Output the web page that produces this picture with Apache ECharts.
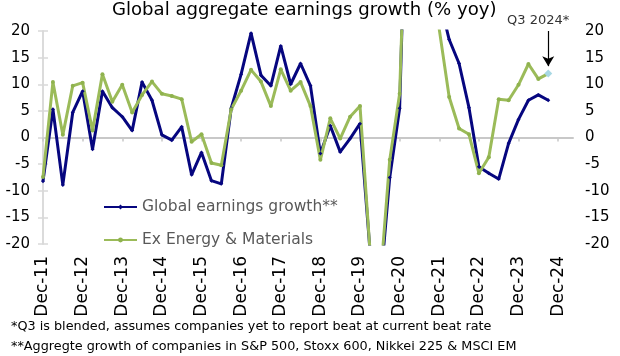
<!DOCTYPE html>
<html>
<head>
<meta charset="utf-8">
<script src="https://cdn.jsdelivr.net/npm/echarts@6/dist/echarts.min.js"></script>
<style>
  html, body { margin: 0; padding: 0; background: #ffffff; }
  #c { width: 620px; height: 356px; }
</style>
</head>
<body>
<div id="c"></div>
<script>
// Quarterly observations, Dec-11 (Q4 2011) to Sep-24 (Q3 2024)
const quarters = [
  'Dec-11','Mar-12','Jun-12','Sep-12','Dec-12','Mar-13','Jun-13','Sep-13',
  'Dec-13','Mar-14','Jun-14','Sep-14','Dec-14','Mar-15','Jun-15','Sep-15',
  'Dec-15','Mar-16','Jun-16','Sep-16','Dec-16','Mar-17','Jun-17','Sep-17',
  'Dec-17','Mar-18','Jun-18','Sep-18','Dec-18','Mar-19','Jun-19','Sep-19',
  'Dec-19','Mar-20','Jun-20','Sep-20','Dec-20','Mar-21','Jun-21','Sep-21',
  'Dec-21','Mar-22','Jun-22','Sep-22','Dec-22','Mar-23','Jun-23','Sep-23',
  'Dec-23','Mar-24','Jun-24','Sep-24'
];
const tickLabels = [
  'Dec-11','Dec-12','Dec-13','Dec-14','Dec-15','Dec-16','Dec-17',
  'Dec-18','Dec-19','Dec-20','Dec-21','Dec-22','Dec-23','Dec-24'
];
const globalGrowth = [
  -8.2, 5.3, -8.9, 4.7, 8.7, -2.2, 8.7, 5.6,
  3.9, 1.3, 10.4, 7.0, 0.5, -0.5, 2.0, -7.0,
  -2.8, -8.1, -8.7, 5.5, 11.9, 19.6, 11.7, 9.7,
  17.2, 10.0, 13.9, 9.7, -3.0, 2.2, -2.7, -0.2,
  2.6, -21, -29, -7.5, 5.5, 70, 110, 45,
  26, 18.4, 13.9, 5.6, -5.5, -6.7, -7.8, -1.1,
  3.4, 7.0, 8.0, 7.0
];
const exEnergyMaterials = [
  -7.4, 10.4, 0.5, 9.7, 10.3, 1.3, 11.9, 6.7,
  9.9, 4.7, 8.0, 10.5, 8.2, 7.8, 7.2, -0.8,
  0.6, -4.8, -5.2, 5.3, 8.8, 12.7, 10.5, 5.9,
  12.8, 8.8, 10.4, 5.9, -4.2, 3.6, -0.2, 3.9,
  5.9, -21, -28, -4.2, 8.2, 65, 100, 40,
  20.3, 7.6, 1.7, 0.6, -6.7, -3.7, 7.2, 7.0,
  9.9, 13.8, 11.0, 12.0
];
const seriesNames = ['Global earnings growth**', 'Ex Energy & Materials'];
const titleText = 'Global aggregate earnings growth (% yoy)';
const footnotes = [
  '*Q3 is blended, assumes companies yet to report beat at current beat rate',
  '**Aggregte growth of companies in S&P 500, Stoxx 600, Nikkei 225 & MSCI EM'
];
const annotationText = 'Q3 2024*';

const FONT = 'DejaVu Sans';
const tickValues = tickLabels.map((_, k) => k * 4);
const lastIdx = quarters.length - 1;

const blueData = globalGrowth.map((v, i) => [i, v]);
const greenData = exEnergyMaterials.map((v, i) => {
  if (i === lastIdx) {
    return { value: [i, v], symbol: 'diamond', symbolSize: 8, itemStyle: { color: '#a8d8e4' } };
  }
  return [i, v];
});

const yAxisCommon = {
  type: 'value', min: -20, max: 20, interval: 5,
  splitLine: { show: false },
  axisLine: { show: true, lineStyle: { color: '#d9d9d9', width: 1.5 } },
  axisTick: { show: true, length: 5, lineStyle: { color: '#d9d9d9', width: 1.5 } },
  axisLabel: { color: '#000', fontFamily: FONT, fontSize: 15 }
};

const chart = echarts.init(document.getElementById('c'));
chart.setOption({
  animation: false,
  backgroundColor: '#fff',
  title: [
    { text: titleText, left: 112, top: 1, padding: 0,
      textStyle: { fontFamily: FONT, fontSize: 18.1, fontWeight: 'normal', color: '#000' } },
    { text: footnotes[0], left: 11, top: 320, padding: 0,
      textStyle: { fontFamily: FONT, fontSize: 12.8, fontWeight: 'normal', color: '#000' } },
    { text: footnotes[1], left: 11, top: 340, padding: 0,
      textStyle: { fontFamily: FONT, fontSize: 12.8, fontWeight: 'normal', color: '#000' } }
  ],
  legend: {
    orient: 'vertical', left: 103, top: 199, padding: 0,
    itemWidth: 33, itemHeight: 6, itemGap: 17,
    data: seriesNames,
    textStyle: { fontFamily: FONT, fontSize: 15.5, color: '#595959' }
  },
  grid: { left: 43, right: 47, top: 31, bottom: 112, containLabel: false },
  xAxis: [
    {
      type: 'value', min: 0, max: 53.5, position: 'bottom',
      splitLine: { show: false },
      axisLine: { show: true, onZero: true, lineStyle: { color: '#c8c8c8', width: 2 } },
      axisTick: { show: true, customValues: tickValues, length: 4, lineStyle: { color: '#c8c8c8', width: 1.5 } },
      axisLabel: { show: false }
    },
    {
      type: 'value', min: 0, max: 53.5, position: 'bottom',
      splitLine: { show: false },
      axisLine: { show: false, onZero: false },
      axisTick: { show: false },
      axisLabel: {
        show: true, customValues: tickValues, rotate: 90, margin: 12,
        color: '#000', fontFamily: FONT, fontSize: 17,
        formatter: v => tickLabels[Math.round(v / 4)] || ''
      }
    }
  ],
  yAxis: [
    Object.assign({}, yAxisCommon, { position: 'left',
      axisLabel: Object.assign({}, yAxisCommon.axisLabel, { margin: 13 }) }),
    Object.assign({}, yAxisCommon, { position: 'right',
      axisLabel: Object.assign({}, yAxisCommon.axisLabel, { margin: 12 }) })
  ],
  series: [
    {
      name: seriesNames[0], type: 'line', xAxisIndex: 0, yAxisIndex: 0,
      data: blueData, clip: true,
      symbol: 'diamond', symbolSize: 4, showSymbol: true,
      lineStyle: { color: '#06067f', width: 3 },
      itemStyle: { color: '#06067f' }
    },
    {
      name: seriesNames[1], type: 'line', xAxisIndex: 0, yAxisIndex: 0,
      data: greenData, clip: true,
      symbol: 'circle', symbolSize: 4, showSymbol: true,
      lineStyle: { color: '#9bbb59', width: 3 },
      itemStyle: { color: '#8fb24e' },
      markLine: {
        silent: true,
        symbol: ['none', 'arrow'], symbolSize: [9, 10],
        lineStyle: { color: '#000', width: 1.2, type: 'solid' },
        label: {
          show: true, position: 'start', formatter: annotationText,
          fontFamily: FONT, fontSize: 13, color: '#333',
          padding: [0, 20, 0, 0], distance: 4
        },
        data: [[ { coord: [lastIdx, 20] }, { coord: [lastIdx, 13.4] } ]]
      }
    }
  ]
});
</script>
</body>
</html>
